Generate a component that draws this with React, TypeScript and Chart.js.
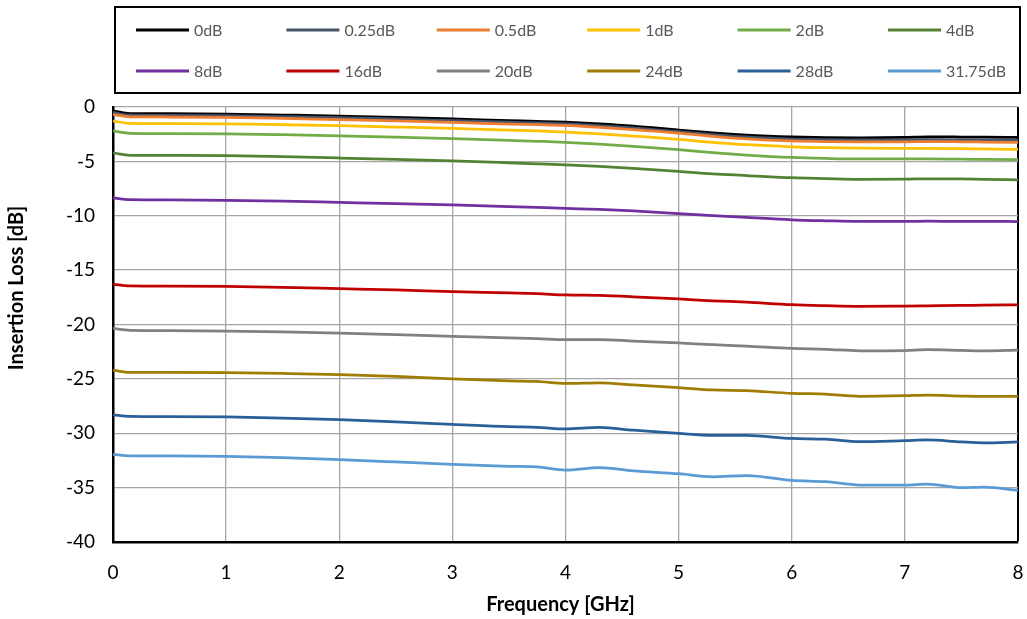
import React, { useEffect, useRef } from 'react';
import { Chart, registerables } from 'chart.js';

Chart.register(...registerables);

const freqGHz = [0, 0.15, 0.5, 1, 1.5, 2, 2.5, 3, 3.5, 3.75, 4, 4.3, 4.6, 5, 5.3, 5.6, 6, 6.3, 6.6, 7, 7.2, 7.5, 7.7, 8];

const seriesLabels = ['0dB', '0.25dB', '0.5dB', '1dB', '2dB', '4dB', '8dB', '16dB', '20dB', '24dB', '28dB', '31.75dB'];

const seriesColors = ['#000000', '#44546A', '#ED7D31', '#FFC000', '#70AD47', '#548235', '#7030A0', '#C00000', '#808080', '#A07C00', '#2A6099', '#5B9BD5'];

const loss0 = [-0.35, -0.6, -0.62, -0.66, -0.74, -0.83, -0.96, -1.1, -1.25, -1.32, -1.4, -1.55, -1.75, -2.12, -2.38, -2.58, -2.75, -2.82, -2.84, -2.8, -2.74, -2.76, -2.78, -2.8];
const loss025 = [-0.5, -0.75, -0.77, -0.8, -0.89, -0.98, -1.1, -1.25, -1.4, -1.47, -1.55, -1.72, -1.92, -2.27, -2.53, -2.75, -2.95, -3.0, -3.03, -3.02, -3.0, -3.02, -3.04, -3.06];
const loss05 = [-0.7, -0.9, -0.92, -0.95, -1.05, -1.17, -1.28, -1.42, -1.57, -1.63, -1.7, -1.88, -2.08, -2.4, -2.7, -2.93, -3.12, -3.18, -3.2, -3.2, -3.18, -3.2, -3.22, -3.25];
const loss1 = [-1.3, -1.5, -1.52, -1.55, -1.63, -1.72, -1.84, -1.97, -2.13, -2.2, -2.3, -2.46, -2.67, -2.97, -3.25, -3.47, -3.66, -3.74, -3.78, -3.8, -3.8, -3.83, -3.86, -3.9];
const loss2 = [-2.2, -2.42, -2.44, -2.47, -2.55, -2.65, -2.77, -2.9, -3.06, -3.15, -3.25, -3.42, -3.62, -3.93, -4.2, -4.42, -4.64, -4.73, -4.78, -4.78, -4.77, -4.8, -4.82, -4.85];
const loss4 = [-4.22, -4.44, -4.45, -4.47, -4.57, -4.69, -4.82, -4.96, -5.13, -5.22, -5.32, -5.47, -5.65, -5.93, -6.15, -6.3, -6.5, -6.58, -6.65, -6.64, -6.6, -6.62, -6.66, -6.7];
const loss8 = [-8.35, -8.52, -8.54, -8.58, -8.66, -8.77, -8.88, -9.01, -9.15, -9.23, -9.32, -9.42, -9.55, -9.8, -9.98, -10.15, -10.37, -10.46, -10.52, -10.52, -10.5, -10.52, -10.52, -10.53];
const loss16 = [-16.3, -16.45, -16.47, -16.5, -16.58, -16.7, -16.82, -16.97, -17.1, -17.17, -17.28, -17.33, -17.45, -17.65, -17.82, -17.95, -18.18, -18.27, -18.33, -18.3, -18.28, -18.25, -18.22, -18.2];
const loss20 = [-20.36, -20.54, -20.56, -20.6, -20.68, -20.79, -20.93, -21.1, -21.22, -21.3, -21.4, -21.38, -21.52, -21.7, -21.85, -21.98, -22.2, -22.28, -22.42, -22.4, -22.32, -22.38, -22.42, -22.35];
const loss24 = [-24.2, -24.4, -24.41, -24.43, -24.5, -24.6, -24.78, -25.0, -25.18, -25.23, -25.42, -25.36, -25.55, -25.8, -26.02, -26.08, -26.33, -26.4, -26.6, -26.55, -26.5, -26.58, -26.62, -26.6];
const loss28 = [-28.3, -28.45, -28.47, -28.5, -28.6, -28.75, -28.95, -29.18, -29.4, -29.45, -29.6, -29.47, -29.72, -30.02, -30.2, -30.2, -30.48, -30.55, -30.78, -30.68, -30.62, -30.8, -30.88, -30.8];
const loss3175 = [-31.94, -32.08, -32.08, -32.12, -32.25, -32.43, -32.64, -32.86, -33.04, -33.1, -33.38, -33.16, -33.45, -33.72, -34.0, -33.9, -34.33, -34.45, -34.76, -34.76, -34.67, -35.0, -34.95, -35.25];

const seriesValues = [loss0, loss025, loss05, loss1, loss2, loss4, loss8, loss16, loss20, loss24, loss28, loss3175];

const yTicks = [0, -5, -10, -15, -20, -25, -30, -35, -40];
const xTitle = 'Frequency [GHz]';
const yTitle = 'Insertion Loss [dB]';

const FONT = "Lato, 'Liberation Sans', sans-serif";

const decorPlugin = {
  id: 'decor',
  afterDraw(chart: any) {
    const ctx = chart.ctx;
    const area = chart.chartArea;
    ctx.save();
    // legend box
    ctx.strokeStyle = '#000000';
    ctx.lineWidth = 2;
    ctx.strokeRect(115, 7, 905, 86);
    const dsets = chart.data.datasets;
    ctx.font = `16px ${FONT}`;
    ctx.textBaseline = 'middle';
    ctx.textAlign = 'left';
    for (let i = 0; i < dsets.length; i++) {
      const col = i % 6;
      const row = Math.floor(i / 6);
      const x0 = 136 + col * 150.4;
      const y0 = 30 + row * 41;
      ctx.strokeStyle = dsets[i].borderColor;
      ctx.lineWidth = 3;
      ctx.beginPath();
      ctx.moveTo(x0, y0);
      ctx.lineTo(x0 + 53, y0);
      ctx.stroke();
      ctx.fillStyle = '#595959';
      ctx.fillText(dsets[i].label, x0 + 58, y0 + 1);
    }
    // axis titles
    ctx.fillStyle = '#000000';
    ctx.font = `bold 20px ${FONT}`;
    ctx.textAlign = 'center';
    ctx.textBaseline = 'middle';
    ctx.fillText(xTitle, (area.left + area.right) / 2 - 5, 605);
    ctx.translate(17, 288);
    ctx.rotate(-Math.PI / 2);
    ctx.fillText(yTitle, 0, 0);
    ctx.restore();
  },
};

export default function App() {
  const canvasRef = useRef<HTMLCanvasElement | null>(null);

  useEffect(() => {
    let chart: Chart | null = null;
    let cancelled = false;
    const build = () => {
      if (cancelled || !canvasRef.current) return;
      chart = new Chart(canvasRef.current, {
        type: 'line',
        data: {
          datasets: seriesLabels.map((label, i) => ({
            label,
            data: freqGHz.map((f, j) => ({ x: f, y: seriesValues[i][j] })),
            borderColor: seriesColors[i],
            backgroundColor: seriesColors[i],
            borderWidth: 2.75,
            pointRadius: 0,
            cubicInterpolationMode: 'monotone' as const,
            fill: false,
            order: seriesLabels.length - i,
          })),
        },
        options: {
          responsive: false,
          animation: false,
          devicePixelRatio: 1,
          layout: { padding: { top: 107, right: 9, left: 0, bottom: 0 } },
          plugins: {
            legend: { display: false },
            tooltip: { enabled: false },
          },
          scales: {
            x: {
              type: 'linear',
              min: 0,
              max: 8,
              ticks: {
                stepSize: 1,
                color: '#000000',
                font: { family: FONT, size: 19 },
                padding: 19,
                maxRotation: 0,
              },
              grid: {
                drawTicks: false,
                color: (c: any) => (c.tick && (c.tick.value === 8) ? '#000000' : '#A6A6A6'),
                lineWidth: (c: any) => (c.tick && c.tick.value === 8 ? 2 : 1.3),
              },
              border: { display: true, color: '#000000', width: 2.5 },
              afterFit: (scale: any) => {
                scale.height = 77;
                scale.paddingRight = 0;
                scale.paddingLeft = 0;
              },
            },
            y: {
              type: 'linear',
              min: -40,
              max: 0,
              afterBuildTicks: (scale: any) => {
                scale.ticks = yTicks.map((v) => ({ value: v }));
              },
              ticks: {
                color: '#000000',
                font: { family: FONT, size: 19 },
                padding: 18,
              },
              grid: {
                drawTicks: false,
                color: '#A6A6A6',
                lineWidth: 1.3,
              },
              border: { display: true, color: '#000000', width: 2.5 },
              afterFit: (scale: any) => {
                scale.width = 113;
                scale.paddingTop = 0;
                scale.paddingBottom = 0;
              },
            },
          },
        },
        plugins: [decorPlugin],
      });
    };
    const fontsAny: any = (document as any).fonts;
    if (fontsAny && fontsAny.load) {
      Promise.all([
        fontsAny.load(`19px Lato`),
        fontsAny.load(`bold 20px Lato`),
        fontsAny.load(`16px Lato`),
      ]).then(build, build);
    } else {
      build();
    }
    return () => {
      cancelled = true;
      if (chart) chart.destroy();
    };
  }, []);

  return (
    <div style={{ position: 'absolute', left: 0, top: 0, width: 1027, height: 619, background: '#ffffff' }}>
      <canvas ref={canvasRef} width={1027} height={619} style={{ width: 1027, height: 619, display: 'block' }} />
    </div>
  );
}
